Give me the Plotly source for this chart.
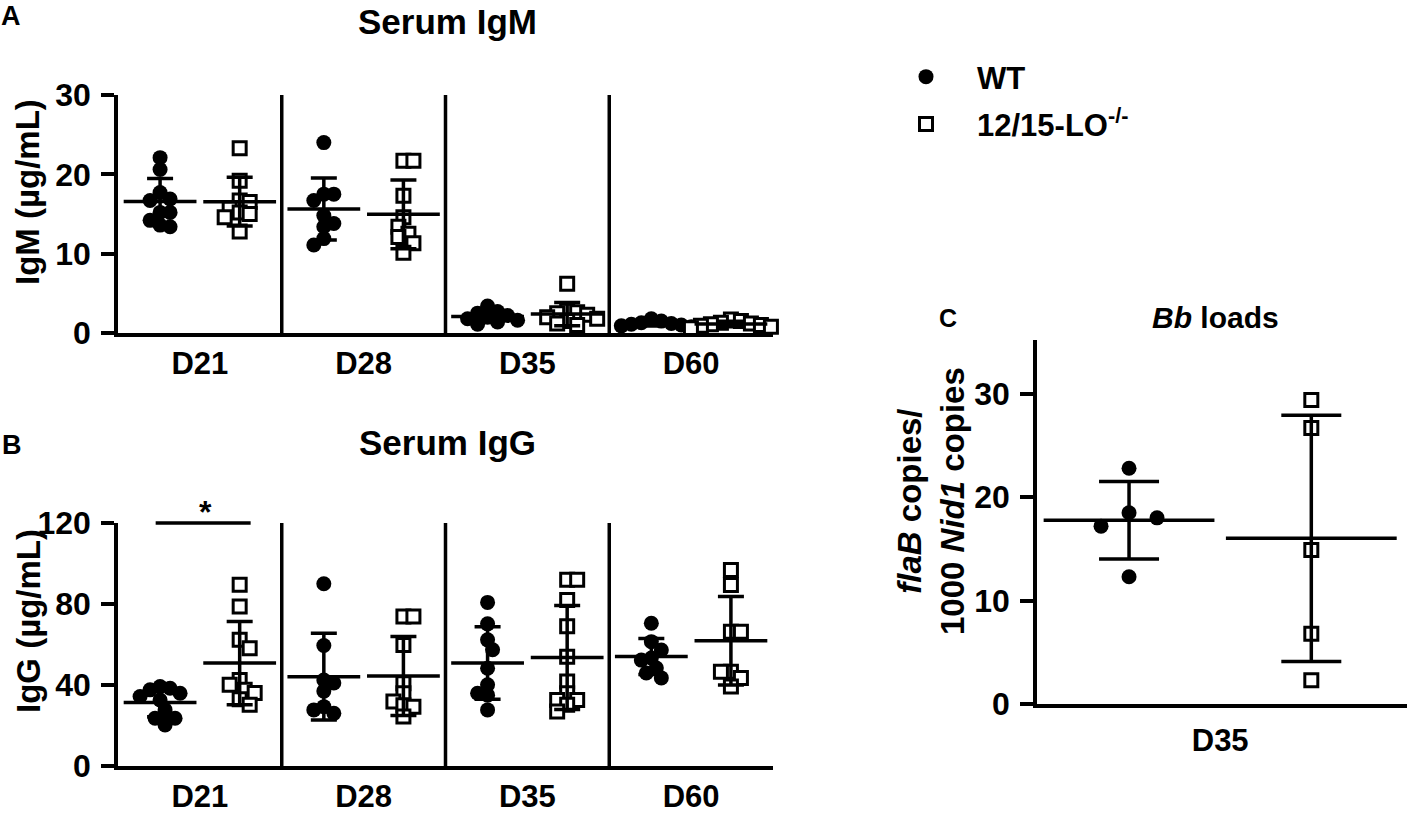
import numpy as np
import plotly.graph_objects as go

# ---------------- data ----------------
days = ["D21", "D28", "D35", "D60"]

igm_wt = {
    "D21": [22.1, 20.6, 17.7, 16.9, 16.7, 15.2, 15.2, 14.2, 13.6, 13.4],
    "D28": [24.0, 17.5, 17.5, 16.7, 14.8, 13.8, 13.4, 11.9, 11.1],
    "D35": [3.4, 2.7, 2.5, 2.2, 2.0, 1.8, 1.6, 1.4, 1.1],
    "D60": [1.8, 1.5, 1.3, 1.2, 1.1, 1.0, 0.9, 0.8],
}
igm_ko = {
    "D21": [23.3, 19.2, 16.7, 16.5, 15.7, 15.2, 15.0, 14.6, 12.8],
    "D28": [21.7, 21.7, 17.3, 14.6, 13.4, 12.5, 12.1, 11.3, 10.1],
    "D35": [6.2, 2.8, 2.6, 2.5, 2.3, 2.0, 1.8, 1.5, 1.2, 1.0],
    "D60": [1.7, 1.5, 1.3, 1.2, 1.1, 1.0, 0.9, 0.8, 0.6],
}
igg_wt = {
    "D21": [39.2, 38.4, 37.6, 35.9, 34.3, 32.6, 27.7, 23.6, 23.6, 20.3],
    "D28": [90.0, 59.5, 42.5, 41.0, 37.0, 29.3, 27.7, 26.0],
    "D35": [80.8, 70.2, 62.3, 57.4, 48.3, 40.1, 35.9, 35.0, 27.7],
    "D60": [70.5, 61.4, 57.3, 53.3, 52.3, 48.4, 45.9, 43.5],
}
igg_ko = {
    "D21": [89.5, 78.8, 62.3, 58.2, 42.5, 40.1, 37.6, 36.0, 33.0, 30.2],
    "D28": [73.8, 73.8, 59.8, 40.9, 35.9, 31.8, 30.0, 29.3, 24.4],
    "D35": [92.0, 92.0, 82.0, 69.0, 54.0, 41.7, 35.9, 32.6, 32.6, 30.2, 26.9],
    "D60": [96.8, 89.4, 66.3, 66.3, 46.6, 46.6, 43.4, 39.2],
}
bb_day = "D35"
bb_wt = [22.8, 18.5, 18.0, 17.2, 12.3]
bb_ko = [29.4, 26.7, 14.9, 6.8, 2.3]

igm_ticks = [0, 10, 20, 30]
igg_ticks = [0, 40, 80, 120]
bb_ticks = [0, 10, 20, 30]

# ---------------- styling ----------------
W, H = 1407, 818
FONT = "Liberation Sans"
BLACK = "#000000"
LW = 3.5

# pixel geometry of the panels (screen pixels; body margin removed below)
AX_L, AX_R = 118, 773
A_TOP, A_BOT = 95, 333
B_TOP, B_BOT = 523, 766
C_L, C_R = 1037, 1407
C_TOP, C_BOT = 340, 704
C_YMAX = 35.2
C_XR = [-2.01, 2.05]


def px(x):
    return x / W


def py(y):
    return 1 - y / H


def dom_x(a, b):
    return [px(a), px(b)]


def dom_y(top, bot):
    return [py(bot), py(top)]


px_per_group = (AX_R - AX_L) / 4.0
OFF = 0.243  # group offset (in category units)


def swarm(vals, ypx, d=10.0, step=5.0):
    """simple deterministic beeswarm: returns x offsets in px"""
    placed = []
    offs = [0.0] * len(vals)
    order = sorted(range(len(vals)), key=lambda i: -vals[i])
    side = 1
    for i in order:
        y = vals[i] * ypx
        k = 0
        found = None
        while found is None:
            cands = [0.0] if k == 0 else [side * k * step, -side * k * step]
            for c in cands:
                if all((c - p) ** 2 + (y - q) ** 2 >= d * d for p, q in placed):
                    found = c
                    break
            k += 1
        if found != 0:
            side = -side
        placed.append((found, y))
        offs[i] = found
    return offs


fig = go.Figure()

circle_marker = dict(symbol="circle", size=15, color=BLACK, line=dict(width=0))
square_marker = dict(symbol="square", size=13, color="white",
                     line=dict(width=3, color=BLACK))


def add_group(xc, vals, marker, xaxis, yaxis, ypx, xpx, name, showlegend,
              mean_half, cap_half, d=10.0, step=5.0):
    offs = swarm(vals, ypx, d, step)
    xs = [xc + o / xpx for o in offs]
    fig.add_trace(go.Scatter(
        x=xs, y=vals, mode="markers", marker=marker, name=name,
        showlegend=showlegend, legendgroup=name, xaxis=xaxis, yaxis=yaxis,
        cliponaxis=False, hoverinfo="y"))
    m = float(np.mean(vals))
    sd = float(np.std(vals, ddof=1))
    fig.add_trace(go.Scatter(
        x=[xc], y=[m], mode="markers",
        marker=dict(symbol="line-ew", size=2 * mean_half,
                    line=dict(width=LW, color=BLACK), color=BLACK),
        error_y=dict(type="data", array=[sd], visible=True, width=cap_half,
                     thickness=LW, color=BLACK),
        showlegend=False, xaxis=xaxis, yaxis=yaxis, cliponaxis=False,
        hoverinfo="skip"))


# Panel A
ypx_a = (A_BOT - A_TOP) / 30.0
for i, d in enumerate(days):
    add_group(i - OFF, igm_wt[d], circle_marker, "x", "y", ypx_a, px_per_group,
              "WT", i == 0, 26, 13)
    add_group(i + OFF, igm_ko[d], square_marker, "x", "y", ypx_a, px_per_group,
              "12/15-LO<sup>-/-</sup>", i == 0, 26, 13)

# Panel B
ypx_b = (B_BOT - B_TOP) / 120.0
for i, d in enumerate(days):
    add_group(i - OFF, igg_wt[d], circle_marker, "x2", "y2", ypx_b, px_per_group,
              "WT", False, 26, 13)
    add_group(i + OFF, igg_ko[d], square_marker, "x2", "y2", ypx_b, px_per_group,
              "12/15-LO<sup>-/-</sup>", False, 26, 13)

# Panel C
ypx_c = (C_BOT - C_TOP) / C_YMAX
xpx_c = (C_R - C_L) / (C_XR[1] - C_XR[0])
add_group(-1, bb_wt, circle_marker, "x3", "y3", ypx_c, xpx_c, "WT", False, 61, 30,
          d=28.0, step=28.0)
add_group(1, bb_ko, square_marker, "x3", "y3", ypx_c, xpx_c,
          "12/15-LO<sup>-/-</sup>", False, 61, 30, d=20.0, step=20.0)

tickfont = dict(family=FONT, size=32, color=BLACK, weight="bold")
catfont = dict(family=FONT, size=31, color=BLACK, weight="bold")

common_y = dict(showline=True, linewidth=LW, linecolor=BLACK, ticks="outside",
                ticklen=13, tickwidth=LW, tickcolor=BLACK, showgrid=False,
                zeroline=False, tickfont=tickfont, ticklabelstandoff=4,
                automargin=False)
common_x = dict(showline=True, linewidth=LW, linecolor=BLACK, ticks="",
                ticklen=0, showgrid=False, zeroline=False, tickfont=catfont,
                ticklabelstandoff=0, automargin=False)

c_xmax = C_XR[0] + (W - C_L) / xpx_c

fig.update_layout(
    width=W, height=H,
    margin=dict(l=0, r=0, t=0, b=0, pad=0, autoexpand=False),
    paper_bgcolor="white", plot_bgcolor="white",
    font=dict(family=FONT, color=BLACK),
    xaxis=dict(domain=dom_x(AX_L, AX_R), range=[-0.5, 3.5],
               tickvals=list(range(4)), ticktext=days, anchor="y", **common_x),
    yaxis=dict(domain=dom_y(A_TOP, A_BOT), range=[0, 30], tickvals=igm_ticks,
               anchor="x", **common_y),
    xaxis2=dict(domain=dom_x(AX_L, AX_R), range=[-0.5, 3.5],
                tickvals=list(range(4)), ticktext=days, anchor="y2", **common_x),
    yaxis2=dict(domain=dom_y(B_TOP, B_BOT), range=[0, 120], tickvals=igg_ticks,
                anchor="x2", **common_y),
    xaxis3=dict(domain=[px(C_L), 1.0], range=[C_XR[0], c_xmax],
                tickvals=[0], ticktext=[bb_day], anchor="y3",
                **{**common_x, "ticklabelstandoff": 6}),
    yaxis3=dict(domain=dom_y(C_TOP, C_BOT), range=[0, C_YMAX], tickvals=bb_ticks,
                anchor="x3", **common_y),
    showlegend=True,
    legend=dict(x=px(875), y=py(50), xanchor="left", yanchor="top",
                font=dict(family=FONT, size=31, color=BLACK, weight="bold"),
                itemwidth=92, bgcolor="rgba(0,0,0,0)", tracegroupgap=4),
)

# group dividers
for k in (0.5, 1.5, 2.5):
    fig.add_shape(type="line", xref="x", yref="y", x0=k, x1=k, y0=0, y1=30,
                  line=dict(color=BLACK, width=LW))
    fig.add_shape(type="line", xref="x2", yref="y2", x0=k, x1=k, y0=0, y1=120,
                  line=dict(color=BLACK, width=LW))

# significance bar (over D21, spanning WT to 12/15-LO)
fig.add_shape(type="line", xref="x2 domain", yref="y2 domain",
              x0=(-0.27 + 0.5) / 4, x1=(0.31 + 0.5) / 4, y0=1.0, y1=1.0,
              line=dict(color=BLACK, width=LW))


def ann(text, x, y, size, angle=0, xanchor="center", yanchor="middle"):
    fig.add_annotation(text=text, x=px(x), y=py(y), xref="paper",
                       yref="paper", showarrow=False, textangle=angle,
                       xanchor=xanchor, yanchor=yanchor,
                       font=dict(family=FONT, size=size, color=BLACK,
                                 weight="bold"))


ann("*", 205, 512, 32)
ann("A", 11, 16, 27)
ann("B", 12, 445, 27)
ann("C", 948, 318, 25)
ann("Serum IgM", 447, 22, 35)
ann("Serum IgG", 447, 442, 35)
ann("<i>Bb</i> loads", 1215, 318, 30)
ann("IgM (µg/mL)", 28, 192, 33, angle=-90)
ann("IgG (µg/mL)", 28, 621, 33, angle=-90)
ann("<i>flaB</i> copies/<br>1000 <i>Nid1</i> copies", 931, 501, 33, angle=-90)

fig.write_html(
    "out.html",
    config={"displayModeBar": False},
    post_script="document.body.style.margin='0px';"
                "document.body.style.overflow='hidden';",
)
